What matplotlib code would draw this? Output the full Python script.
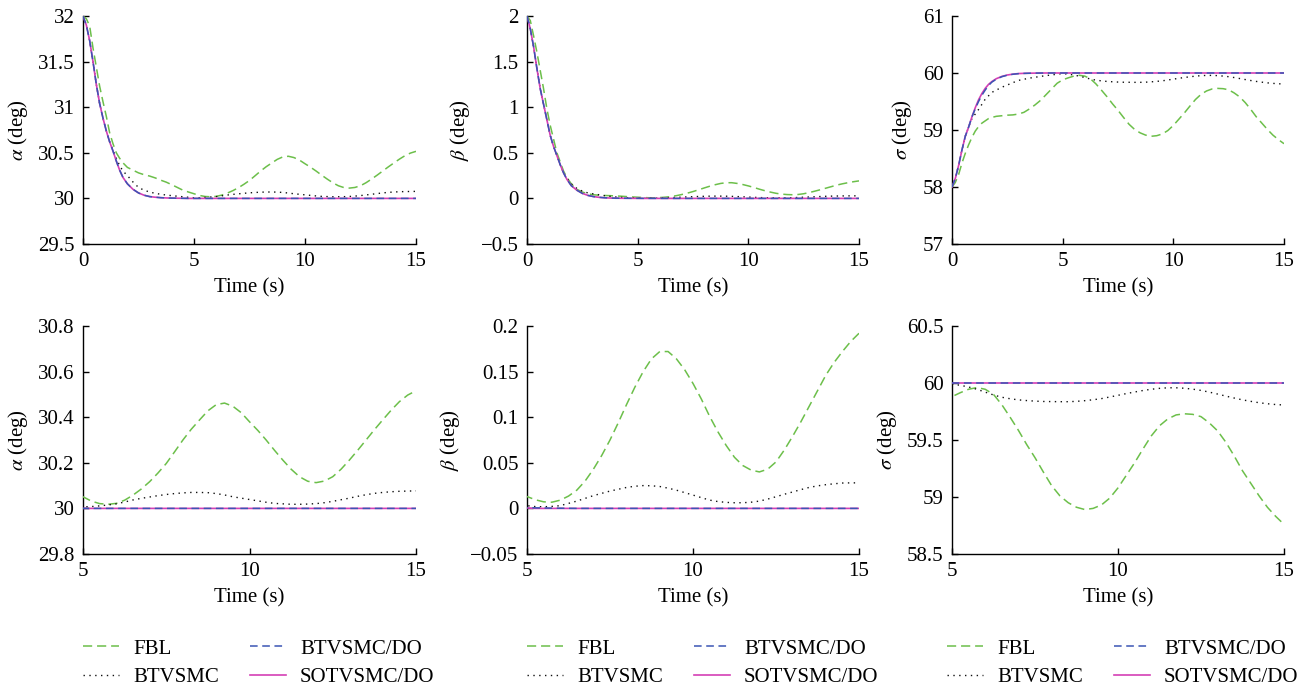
import matplotlib
matplotlib.use("Agg")
import matplotlib.pyplot as plt
from matplotlib.lines import Line2D

plt.rcParams['font.family'] = ['Liberation Serif', 'DejaVu Serif']
plt.rcParams['mathtext.fontset'] = 'stix'
plt.rcParams['axes.unicode_minus'] = True

# Time samples (s): fine steps during the transient, then every 0.25 s
time_s = [0, 0.15, 0.3, 0.45, 0.6, 0.75, 0.9, 1.05, 1.2, 1.35, 1.5, 1.65, 1.8,
          2.0, 2.25, 2.5, 2.75, 3.0, 3.25, 3.5, 3.75, 4.0, 4.25, 4.5, 4.75,
          5.0, 5.25, 5.5, 5.75, 6.0, 6.25, 6.5, 6.75, 7.0, 7.25, 7.5, 7.75,
          8.0, 8.25, 8.5, 8.75, 9.0, 9.25, 9.5, 9.75, 10.0, 10.25, 10.5, 10.75,
          11.0, 11.25, 11.5, 11.75, 12.0, 12.25, 12.5, 12.75, 13.0, 13.25, 13.5, 13.75,
          14.0, 14.25, 14.5, 14.75, 15.0]

# Angle of attack alpha (deg)
alpha_fbl = [32, 31.97, 31.89, 31.65, 31.44, 31.23, 31.06, 30.9, 30.72, 30.6, 30.5, 30.44, 30.39,
             30.34, 30.31, 30.28, 30.26, 30.245, 30.225, 30.2, 30.178, 30.15, 30.12, 30.09, 30.07,
             30.051, 30.032, 30.021, 30.018, 30.022, 30.036, 30.058, 30.085, 30.117, 30.155, 30.197, 30.248,
             30.3, 30.347, 30.388, 30.428, 30.455, 30.462, 30.448, 30.42, 30.38, 30.342, 30.3, 30.255,
             30.212, 30.172, 30.139, 30.119, 30.113, 30.12, 30.139, 30.172, 30.212, 30.255, 30.3, 30.345,
             30.388, 30.43, 30.468, 30.497, 30.516]
alpha_btvsmc = [32, 31.9, 31.73, 31.5, 31.25, 31.04, 30.88, 30.74, 30.62, 30.53, 30.44, 30.36, 30.3,
                30.25, 30.18, 30.12, 30.09, 30.07, 30.056, 30.045, 30.037, 30.03, 30.024, 30.018, 30.012,
                30.007, 30.008, 30.011, 30.015, 30.02, 30.028, 30.037, 30.044, 30.05, 30.056, 30.061, 30.065,
                30.068, 30.07, 30.07, 30.069, 30.065, 30.059, 30.051, 30.045, 30.039, 30.033, 30.027, 30.022,
                30.02, 30.018, 30.018, 30.019, 30.021, 30.025, 30.031, 30.038, 30.045, 30.053, 30.06, 30.066,
                30.07, 30.073, 30.075, 30.076, 30.077]
alpha_btvsmc_do = [32, 31.9, 31.73, 31.5, 31.25, 31.04, 30.88, 30.74, 30.62, 30.52, 30.41, 30.31, 30.23,
                   30.16, 30.1, 30.06, 30.035, 30.02, 30.013, 30.008, 30.005, 30.003, 30.002, 30.001, 30.0,
                   30.0, 30.0, 30.0, 30.0, 30.0, 30.0, 30.0, 30.0, 30.0, 30.0, 30.0, 30.0,
                   30.0, 30.0, 30.0, 30.0, 30.0, 30.0, 30.0, 30.0, 30.0, 30.0, 30.0, 30.0,
                   30.0, 30.0, 30.0, 30.0, 30.0, 30.0, 30.0, 30.0, 30.0, 30.0, 30.0, 30.0,
                   30.0, 30.0, 30.0, 30.0, 30.0]
alpha_sotvsmc_do = [32, 31.9, 31.73, 31.5, 31.25, 31.04, 30.88, 30.74, 30.62, 30.52, 30.41, 30.31, 30.23,
                    30.16, 30.1, 30.06, 30.035, 30.02, 30.013, 30.008, 30.005, 30.003, 30.002, 30.001, 30.0,
                    30.0, 30.0, 30.0, 30.0, 30.0, 30.0, 30.0, 30.0, 30.0, 30.0, 30.0, 30.0,
                    30.0, 30.0, 30.0, 30.0, 30.0, 30.0, 30.0, 30.0, 30.0, 30.0, 30.0, 30.0,
                    30.0, 30.0, 30.0, 30.0, 30.0, 30.0, 30.0, 30.0, 30.0, 30.0, 30.0, 30.0,
                    30.0, 30.0, 30.0, 30.0, 30.0]

# Sideslip angle beta (deg)
beta_fbl = [2, 1.95, 1.78, 1.6, 1.4, 1.2, 0.98, 0.8, 0.65, 0.5, 0.4, 0.3, 0.23,
            0.16, 0.1, 0.07, 0.05, 0.04, 0.035, 0.032, 0.03, 0.027, 0.024, 0.02, 0.016,
            0.013, 0.0095, 0.0072, 0.0068, 0.009, 0.0135, 0.02, 0.03, 0.043, 0.058, 0.075, 0.094,
            0.114, 0.133, 0.15, 0.164, 0.172, 0.172, 0.164, 0.152, 0.137, 0.12, 0.101, 0.084,
            0.069, 0.056, 0.047, 0.042, 0.04, 0.043, 0.051, 0.064, 0.079, 0.095, 0.112, 0.129,
            0.146, 0.16, 0.172, 0.183, 0.192]
beta_btvsmc = [2, 1.86, 1.66, 1.42, 1.2, 1.03, 0.86, 0.69, 0.57, 0.47, 0.37, 0.28, 0.22,
               0.16, 0.11, 0.08, 0.06, 0.05, 0.04, 0.03, 0.022, 0.016, 0.011, 0.008, 0.005,
               0.003, 0.002, 0.0018, 0.0022, 0.003, 0.0055, 0.008, 0.011, 0.014, 0.0165, 0.019, 0.021,
               0.023, 0.0243, 0.025, 0.0248, 0.024, 0.0222, 0.02, 0.0173, 0.0146, 0.0118, 0.0091, 0.0075,
               0.0066, 0.0062, 0.0062, 0.0068, 0.008, 0.0102, 0.0128, 0.0155, 0.018, 0.0206, 0.023, 0.0247,
               0.026, 0.027, 0.0278, 0.028, 0.028]
beta_btvsmc_do = [2, 1.86, 1.66, 1.42, 1.2, 1.03, 0.86, 0.69, 0.57, 0.47, 0.37, 0.28, 0.21,
                  0.14, 0.09, 0.055, 0.033, 0.02, 0.012, 0.007, 0.004, 0.0025, 0.0018, 0.0013, 0.001,
                  0.0008, 0.0006, 0.0005, 0.0003, 0.0002, 0.0001, 0.0, 0.0, 0.0, 0.0, 0.0, 0.0,
                  0.0, 0.0, 0.0, 0.0, 0.0, 0.0, 0.0, 0.0, 0.0, 0.0, 0.0, 0.0,
                  0.0, 0.0, 0.0, 0.0, 0.0, 0.0, 0.0, 0.0, 0.0, 0.0, 0.0, 0.0,
                  0.0, 0.0, 0.0, 0.0, 0.0]
beta_sotvsmc_do = [2, 1.86, 1.66, 1.42, 1.2, 1.03, 0.86, 0.69, 0.57, 0.47, 0.37, 0.28, 0.21,
                   0.14, 0.09, 0.055, 0.033, 0.02, 0.012, 0.007, 0.004, 0.002, 0.0015, 0.001, 0.0007,
                   0.0005, 0.0, 0.0, 0.0, 0.0, 0.0, 0.0, 0.0, 0.0, 0.0, 0.0, 0.0,
                   0.0, 0.0, 0.0, 0.0, 0.0, 0.0, 0.0, 0.0, 0.0, 0.0, 0.0, 0.0,
                   0.0, 0.0, 0.0, 0.0, 0.0, 0.0, 0.0, 0.0, 0.0, 0.0, 0.0, 0.0,
                   0.0, 0.0, 0.0, 0.0, 0.0]

# Bank angle sigma (deg)
sigma_fbl = [58, 58.08, 58.22, 58.42, 58.59, 58.74, 58.87, 58.98, 59.06, 59.12, 59.16, 59.2, 59.22,
             59.24, 59.25, 59.26, 59.265, 59.28, 59.31, 59.37, 59.44, 59.52, 59.62, 59.72, 59.82,
             59.88, 59.915, 59.945, 59.96, 59.945, 59.9, 59.81, 59.7, 59.585, 59.46, 59.345, 59.22,
             59.1, 59.01, 58.95, 58.91, 58.89, 58.9, 58.93, 58.99, 59.08, 59.19, 59.3, 59.42,
             59.535, 59.625, 59.685, 59.72, 59.73, 59.725, 59.705, 59.65, 59.58, 59.48, 59.36, 59.23,
             59.12, 59.01, 58.91, 58.83, 58.76]
sigma_btvsmc = [58, 58.15, 58.38, 58.65, 58.89, 59.05, 59.2, 59.28, 59.36, 59.45, 59.54, 59.6, 59.66,
                59.7, 59.75, 59.79, 59.83, 59.87, 59.89, 59.91, 59.925, 59.94, 59.955, 59.965, 59.98,
                59.99, 59.98, 59.965, 59.945, 59.92, 59.895, 59.875, 59.862, 59.852, 59.846, 59.841, 59.838,
                59.837, 59.836, 59.836, 59.839, 59.845, 59.853, 59.863, 59.877, 59.892, 59.907, 59.921, 59.934,
                59.945, 59.953, 59.958, 59.958, 59.954, 59.946, 59.935, 59.92, 59.903, 59.885, 59.868, 59.852,
                59.839, 59.827, 59.818, 59.811, 59.807]
sigma_btvsmc_do = [58, 58.15, 58.38, 58.65, 58.89, 59.05, 59.23, 59.37, 59.5, 59.61, 59.7, 59.78, 59.84,
                   59.89, 59.935, 59.962, 59.978, 59.988, 59.993, 59.996, 59.998, 59.999, 60.0, 60.0, 60.0,
                   60.0, 60.0, 60.0, 60.0, 60.0, 60.0, 60.0, 60.0, 60.0, 60.0, 60.0, 60.0,
                   60.0, 60.0, 60.0, 60.0, 60.0, 60.0, 60.0, 60.0, 60.0, 60.0, 60.0, 60.0,
                   60.0, 60.0, 60.0, 60.0, 60.0, 60.0, 60.0, 60.0, 60.0, 60.0, 60.0, 60.0,
                   60.0, 60.0, 60.0, 60.0, 60.0]
sigma_sotvsmc_do = [58, 58.15, 58.38, 58.65, 58.89, 59.05, 59.23, 59.39, 59.53, 59.64, 59.73, 59.8, 59.85,
                    59.9, 59.94, 59.965, 59.98, 59.99, 59.994, 59.996, 59.998, 59.999, 60.0, 60.0, 60.0,
                    60.0, 60.0, 60.0, 60.0, 60.0, 60.0, 60.0, 60.0, 60.0, 60.0, 60.0, 60.0,
                    60.0, 60.0, 60.0, 60.0, 60.0, 60.0, 60.0, 60.0, 60.0, 60.0, 60.0, 60.0,
                    60.0, 60.0, 60.0, 60.0, 60.0, 60.0, 60.0, 60.0, 60.0, 60.0, 60.0, 60.0,
                    60.0, 60.0, 60.0, 60.0, 60.0]

method_names = ['FBL', 'BTVSMC', 'BTVSMC/DO', 'SOTVSMC/DO']
c_fbl = '#6cbf4a'
c_bt = '#111111'
c_btdo = '#3a55b4'
c_sot = '#d43fb5'

styles = {
    'FBL': dict(color=c_fbl, lw=1.1, dashes=(6, 3.2), zorder=3),
    'BTVSMC': dict(color=c_bt, lw=1.0, dashes=(1, 3.2), zorder=4),
    'BTVSMC/DO': dict(color=c_btdo, lw=1.1, dashes=(5, 3), zorder=6),
    'SOTVSMC/DO': dict(color=c_sot, lw=1.2, zorder=5),
}

panels = [
    (r'$\alpha$ (deg)', [alpha_fbl, alpha_btvsmc, alpha_btvsmc_do, alpha_sotvsmc_do],
     (0, 15), [0, 5, 10, 15], (29.5, 32), [29.5, 30, 30.5, 31, 31.5, 32], ['29.5', '30', '30.5', '31', '31.5', '32']),
    (r'$\beta$ (deg)', [beta_fbl, beta_btvsmc, beta_btvsmc_do, beta_sotvsmc_do],
     (0, 15), [0, 5, 10, 15], (-0.5, 2), [-0.5, 0, 0.5, 1, 1.5, 2], ['\u22120.5', '0', '0.5', '1', '1.5', '2']),
    (r'$\sigma$ (deg)', [sigma_fbl, sigma_btvsmc, sigma_btvsmc_do, sigma_sotvsmc_do],
     (0, 15), [0, 5, 10, 15], (57, 61), [57, 58, 59, 60, 61], ['57', '58', '59', '60', '61']),
    (r'$\alpha$ (deg)', [alpha_fbl, alpha_btvsmc, alpha_btvsmc_do, alpha_sotvsmc_do],
     (5, 15), [5, 10, 15], (29.8, 30.8), [29.8, 30, 30.2, 30.4, 30.6, 30.8], ['29.8', '30', '30.2', '30.4', '30.6', '30.8']),
    (r'$\beta$ (deg)', [beta_fbl, beta_btvsmc, beta_btvsmc_do, beta_sotvsmc_do],
     (5, 15), [5, 10, 15], (-0.05, 0.2), [-0.05, 0, 0.05, 0.1, 0.15, 0.2], ['\u22120.05', '0', '0.05', '0.1', '0.15', '0.2']),
    (r'$\sigma$ (deg)', [sigma_fbl, sigma_btvsmc, sigma_btvsmc_do, sigma_sotvsmc_do],
     (5, 15), [5, 10, 15], (58.5, 60.5), [58.5, 59, 59.5, 60, 60.5], ['58.5', '59', '59.5', '60', '60.5']),
]

W, H = 1308, 690
fig = plt.figure(figsize=(W / 100, H / 100), dpi=100)
fs = 15

col_x = [(83, 416), (527, 859), (952, 1284)]
row_y = [(16, 244), (326, 554)]

for i, (ylab, series, xlim, xt, ylim, yt, ytl) in enumerate(panels):
    r, c = divmod(i, 3)
    x0, x1 = col_x[c]
    y0, y1 = row_y[r]
    ax = fig.add_axes([x0 / W, 1 - y1 / H, (x1 - x0) / W, (y1 - y0) / H])
    for name, vals in zip(method_names, series):
        ax.plot(time_s, vals, **styles[name])
    ax.set_xlim(*xlim)
    ax.set_ylim(*ylim)
    ax.set_xticks(xt)
    ax.set_xticklabels([str(v) for v in xt])
    ax.set_yticks(yt)
    ax.set_yticklabels(ytl)
    for s in ('top', 'right'):
        ax.spines[s].set_visible(False)
    for s in ('left', 'bottom'):
        ax.spines[s].set_linewidth(1.0)
    ax.tick_params(direction='in', length=4, width=1.0, labelsize=fs, pad=6)
    ax.set_xlabel('Time (s)', fontsize=fs, labelpad=5)
    ax.set_ylabel(ylab, fontsize=fs, labelpad=6)

# Legends under each column
handles = [Line2D([], [], **{k: v for k, v in styles[n].items() if k != 'zorder'}) for n in method_names]
for lx in (83, 527, 947):
    fig.legend(handles, method_names, loc='upper left', ncol=2,
               bbox_to_anchor=(lx / W, 1 - 639 / H), frameon=False, fontsize=fs,
               handlelength=1.75, handletextpad=0.65, columnspacing=1.5,
               labelspacing=0.42, borderpad=0, borderaxespad=0)

fig.savefig('out.png', dpi=100)
